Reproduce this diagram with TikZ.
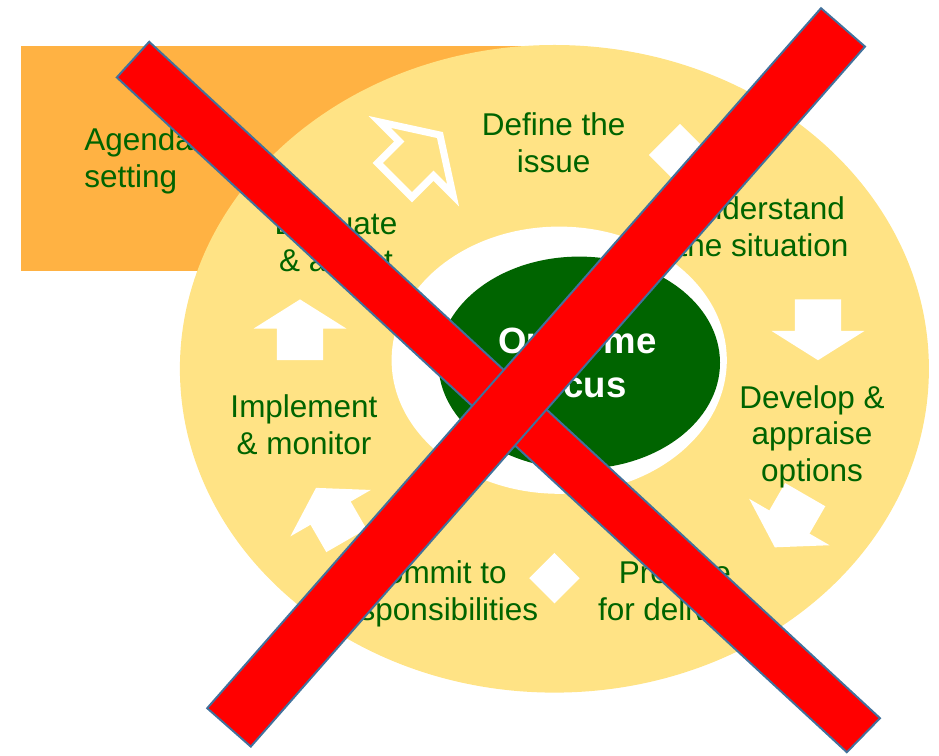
\documentclass[tikz,border=0pt]{standalone}
\usepackage{fontspec}
\setmainfont{Liberation Sans}
\usepackage{tikz}

\definecolor{cycleyellow}{RGB}{255,227,133}
\definecolor{agendaorange}{RGB}{255,178,67}
\definecolor{focusgreen}{RGB}{0,100,0}
\definecolor{crossedge}{RGB}{65,113,156}

\begin{document}
\begin{tikzpicture}[
        steptext/.style={text=focusgreen, align=center, inner sep=0, anchor=base,
            font=\fontsize{22.4}{26.2}\selectfont},
        crossbar/.style={fill=red, draw=crossedge, line width=1.4pt}
    ]
            \useasboundingbox (0, 0) rectangle (23.475, 18.875);

            % agenda box behind the cycle
            \fill[agendaorange] (0.525, 12.1) rectangle (13.5, 17.725);

            % cycle ring and the focus in the middle
            \fill[cycleyellow] (13.86, 9.655) ellipse [x radius=9.3625, y radius=8.095];
            \fill[white] (13.98, 9.87) ellipse [x radius=4.19, y radius=3.34];
            \fill[focusgreen] (14.48, 9.805) ellipse [x radius=3.52, y radius=2.655];
            % base sits on the last line
            \node[text=white, align=center, inner sep=0, anchor=base,
                font=\bfseries\fontsize{26}{31.3}\selectfont] (focus) at (14.44, 8.925) {Outcome\\focus};

            % block arrows between the steps
            \foreach \x/\y/\a in {7.5/10.63/90, 20.45/10.63/-90, 19.75/5.85/-120, 8.28/6.02/120} {
                \fill[white, shift={(\x, \y)}, rotate=\a] (-0.76, -0.58) -- (0.03, -0.58) -- (0.03, -1.16)
                    -- (0.76, 0) -- (0.03, 1.16) -- (0.03, 0.58) -- (-0.76, 0.58) -- cycle;
            }
            \fill[white, even odd rule, shift={(10.44, 14.94)}, rotate=45]
                (-0.895, -0.695) -- (-0.135, -0.695) -- (-0.135, -1.6) -- (0.895, 0)
                -- (-0.135, 1.6) -- (-0.135, 0.695) -- (-0.895, 0.695) -- cycle
                (-0.715, -0.515) -- (0.045, -0.515) -- (0.045, -1.0) -- (0.685, 0)
                -- (0.045, 1.0) -- (0.045, 0.515) -- (-0.715, 0.515) -- cycle;
            \foreach \x/\y/\r in {17/15/0.78, 13.86/4.42/0.63} {
                \fill[white] (\x, \y) ++(0, \r) -- ++(\r, -\r) -- ++(-\r, -\r) -- ++(-\r, \r) -- cycle;
            }

            % step labels, placed by the baseline of their last line
            \node[steptext, anchor=base west, align=left] (agenda) at (2.1, 14.19) {Agenda\\setting};
            \foreach \name/\x/\y/\txt in {define/13.84/14.555/{Define the\\issue},
                    understand/19.09/12.455/{Understand\\the situation},
                    develop/20.3/6.83/{Develop \&\\appraise\\options},
                    prepare/16.875/3.37/{Prepare\\for delivery},
                    commit/10.875/3.37/{Commit to\\responsibilities},
                    implement/7.6/7.52/{Implement\\\& monitor},
                    evaluate/8.4/12.08/{Evaluate\\\& adjust}} {
                \node[steptext] (\name) at (\x, \y) {\txt};
            }

            % the cross on top
            \draw[crossbar] (3.73, 17.83) -- (22.0, 0.92) -- (21.17, 0.07) -- (2.92, 16.94) -- cycle;
            \draw[crossbar] (20.525, 18.67) -- (21.625, 17.71) -- (6.27, 0.21) -- (5.18, 1.17) -- cycle;
        \end{tikzpicture}
\end{document}
